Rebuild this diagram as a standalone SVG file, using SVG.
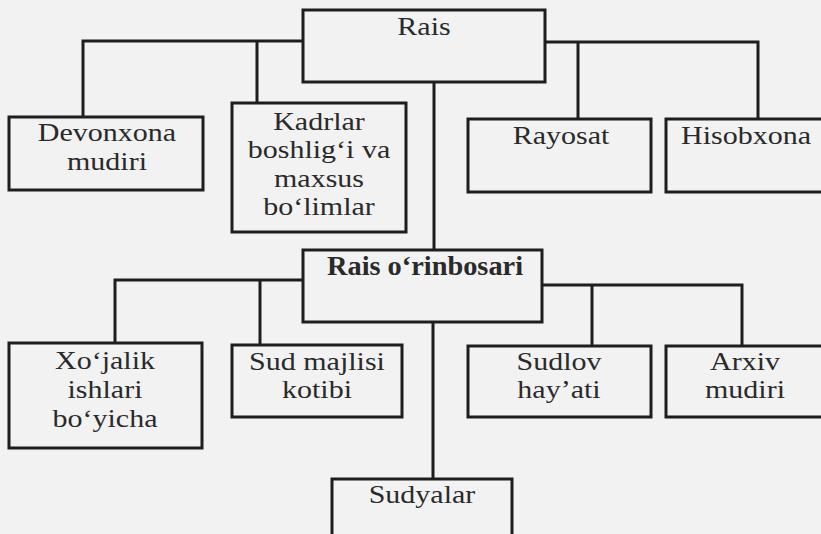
<svg xmlns="http://www.w3.org/2000/svg" width="821" height="534" viewBox="0 0 821 534">
  <style>
    .box { fill: none; stroke: #1e1e1e; stroke-width: 3; }
    .wire { fill: none; stroke: #1e1e1e; stroke-width: 3; }
    .lbl { font-family: "Liberation Serif", "Times New Roman", serif; font-size: 25px; fill: #2a2a2a; text-anchor: middle; }
    .bold { font-weight: bold; font-size: 27px; }
  </style>
  <rect x="0" y="0" width="821" height="534" fill="#f2f2f2"/>

  <!-- connectors -->
  <g id="connectors">
    <polyline class="wire" points="303,41 83,41 83,117"/>
    <line class="wire" x1="257" y1="41" x2="257" y2="103"/>
    <polyline class="wire" points="545,42 758,42 758,119"/>
    <line class="wire" x1="578" y1="42" x2="578" y2="119"/>
    <line class="wire" x1="434" y1="82" x2="434" y2="250"/>
    <polyline class="wire" points="303,280 115,280 115,343"/>
    <line class="wire" x1="260" y1="280" x2="260" y2="345"/>
    <polyline class="wire" points="542,285 742,285 742,346"/>
    <line class="wire" x1="592" y1="285" x2="592" y2="346"/>
    <line class="wire" x1="433" y1="322" x2="433" y2="479"/>
  </g>

  <!-- labels are widened 1.2x horizontally to the book typeface's proportions -->
  <g id="rais">
    <rect class="box" x="303" y="10" width="242" height="72"/>
    <text class="lbl" transform="translate(424,35) scale(1.2,1)">Rais</text>
  </g>
  <g id="devonxona">
    <rect class="box" x="9" y="117" width="194" height="73"/>
    <text class="lbl" transform="translate(107,141) scale(1.2,1)">Devonxona</text>
    <text class="lbl" transform="translate(107,170) scale(1.2,1)">mudiri</text>
  </g>
  <g id="kadrlar">
    <rect class="box" x="232" y="103" width="174" height="129"/>
    <text class="lbl" transform="translate(319,130) scale(1.2,1)">Kadrlar</text>
    <text class="lbl" transform="translate(319,158) scale(1.2,1)">boshlig‘i va</text>
    <text class="lbl" transform="translate(319,187) scale(1.2,1)">maxsus</text>
    <text class="lbl" transform="translate(319,215) scale(1.2,1)">bo‘limlar</text>
  </g>
  <g id="rayosat">
    <rect class="box" x="468" y="119" width="183" height="73"/>
    <text class="lbl" transform="translate(561,144) scale(1.2,1)">Rayosat</text>
  </g>
  <g id="hisobxona">
    <rect class="box" x="666" y="119" width="170" height="73"/>
    <text class="lbl" transform="translate(746,144) scale(1.2,1)">Hisobxona</text>
  </g>
  <g id="rais-orinbosari">
    <rect class="box" x="303" y="250" width="239" height="72"/>
    <text class="lbl bold" transform="translate(425,275) scale(1.05,1)">Rais o‘rinbosari</text>
  </g>
  <g id="xojalik">
    <rect class="box" x="9" y="343" width="193" height="105"/>
    <text class="lbl" transform="translate(105,369) scale(1.2,1)">Xo‘jalik</text>
    <text class="lbl" transform="translate(105,398) scale(1.2,1)">ishlari</text>
    <text class="lbl" transform="translate(105,427) scale(1.2,1)">bo‘yicha</text>
  </g>
  <g id="sud-majlisi">
    <rect class="box" x="232" y="345" width="170" height="72"/>
    <text class="lbl" transform="translate(317,370) scale(1.2,1)">Sud majlisi</text>
    <text class="lbl" transform="translate(317,398) scale(1.2,1)">kotibi</text>
  </g>
  <g id="sudlov">
    <rect class="box" x="468" y="346" width="183" height="71"/>
    <text class="lbl" transform="translate(559,370) scale(1.2,1)">Sudlov</text>
    <text class="lbl" transform="translate(559,398) scale(1.2,1)">hay’ati</text>
  </g>
  <g id="arxiv">
    <rect class="box" x="666" y="346" width="170" height="71"/>
    <text class="lbl" transform="translate(745,370) scale(1.2,1)">Arxiv</text>
    <text class="lbl" transform="translate(745,398) scale(1.2,1)">mudiri</text>
  </g>
  <g id="sudyalar">
    <rect class="box" x="332" y="479" width="180" height="80"/>
    <text class="lbl" transform="translate(422,503) scale(1.2,1)">Sudyalar</text>
  </g>
</svg>
